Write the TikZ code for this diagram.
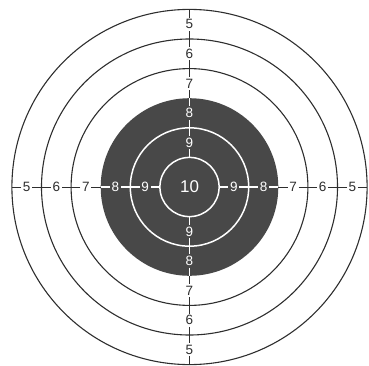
\documentclass[tikz,border=0pt]{standalone}
\usepackage{fontspec}
\setmainfont{Liberation Sans}
\usetikzlibrary{calc}
\definecolor{tgtdark}{HTML}{484848}
\definecolor{tgtline}{HTML}{2E2E2E}

\begin{document}
\begin{tikzpicture}[x=1pt, y=1pt,
    ring/.style={draw=tgtline, line width=1.1pt},
    wring/.style={draw=white, line width=1.5pt},
    num/.style={fill=white, text=tgtline, inner sep=1.6pt,
                font=\fontsize{13.5}{13.5}\selectfont},
    wnum/.style={num, fill=tgtdark, text=white},
    axis/.style={tgtline, line width=0.8pt},
    waxis/.style={white, line width=1.1pt},
]
    \useasboundingbox (0,0) rectangle (369,365);
    \coordinate (o) at (189.5,178);

    % Rings
    \fill[tgtdark] (o) circle[radius=88.8];
    \draw[wring] (o) circle[radius=59.2];
    \draw[ring] (o) circle[radius=118.4];
    \draw[ring] (o) circle[radius=148];
    \draw[ring] (o) circle[radius=177.6];
    \node[circle, wring, minimum size=59.2pt, inner sep=0pt, text=white,
          font=\fontsize{17}{17}\selectfont] (c10) at (o) {10};

    % Scores, top
    \node[wnum] (t9) at ($(o)+(0,44.4)$) {9};
    \node[wnum] (t8) at ($(o)+(0,74)$) {8};
    \node[num] (t7) at ($(o)+(0,103.6)$) {7};
    \node[num] (t6) at ($(o)+(0,133.2)$) {6};
    \node[num] (t5) at ($(o)+(0,162.8)$) {5};
    \coordinate (tdisc) at ($(o)+(0,88.8)$);
    \coordinate (tend) at ($(o)+(0,177.6)$);

    % Scores, bottom
    \node[wnum] (b9) at ($(o)+(0,-44.4)$) {9};
    \node[wnum] (b8) at ($(o)+(0,-74)$) {8};
    \node[num] (b7) at ($(o)+(0,-103.6)$) {7};
    \node[num] (b6) at ($(o)+(0,-133.2)$) {6};
    \node[num] (b5) at ($(o)+(0,-162.8)$) {5};
    \coordinate (bdisc) at ($(o)+(0,-88.8)$);
    \coordinate (bend) at ($(o)+(0,-177.6)$);

    % Scores, left
    \node[wnum] (l9) at ($(o)+(-44.4,0)$) {9};
    \node[wnum] (l8) at ($(o)+(-74,0)$) {8};
    \node[num] (l7) at ($(o)+(-103.6,0)$) {7};
    \node[num] (l6) at ($(o)+(-133.2,0)$) {6};
    \node[num] (l5) at ($(o)+(-162.8,0)$) {5};
    \coordinate (ldisc) at ($(o)+(-88.8,0)$);
    \coordinate (lend) at ($(o)+(-177.6,0)$);

    % Scores, right
    \node[wnum] (r9) at ($(o)+(44.4,0)$) {9};
    \node[wnum] (r8) at ($(o)+(74,0)$) {8};
    \node[num] (r7) at ($(o)+(103.6,0)$) {7};
    \node[num] (r6) at ($(o)+(133.2,0)$) {6};
    \node[num] (r5) at ($(o)+(162.8,0)$) {5};
    \coordinate (rdisc) at ($(o)+(88.8,0)$);
    \coordinate (rend) at ($(o)+(177.6,0)$);

    % Cross lines
    \draw[waxis] (c10) -- (t9) -- (t8) -- (tdisc);
    \draw[axis] (tdisc) -- (t7) -- (t6) -- (t5) -- (tend);
    \draw[waxis] (c10) -- (b9) -- (b8) -- (bdisc);
    \draw[axis] (bdisc) -- (b7) -- (b6) -- (b5) -- (bend);
    \draw[waxis] (c10) -- (l9) -- (l8) -- (ldisc);
    \draw[axis] (ldisc) -- (l7) -- (l6) -- (l5) -- (lend);
    \draw[waxis] (c10) -- (r9) -- (r8) -- (rdisc);
    \draw[axis] (rdisc) -- (r7) -- (r6) -- (r5) -- (rend);
\end{tikzpicture}
\end{document}
